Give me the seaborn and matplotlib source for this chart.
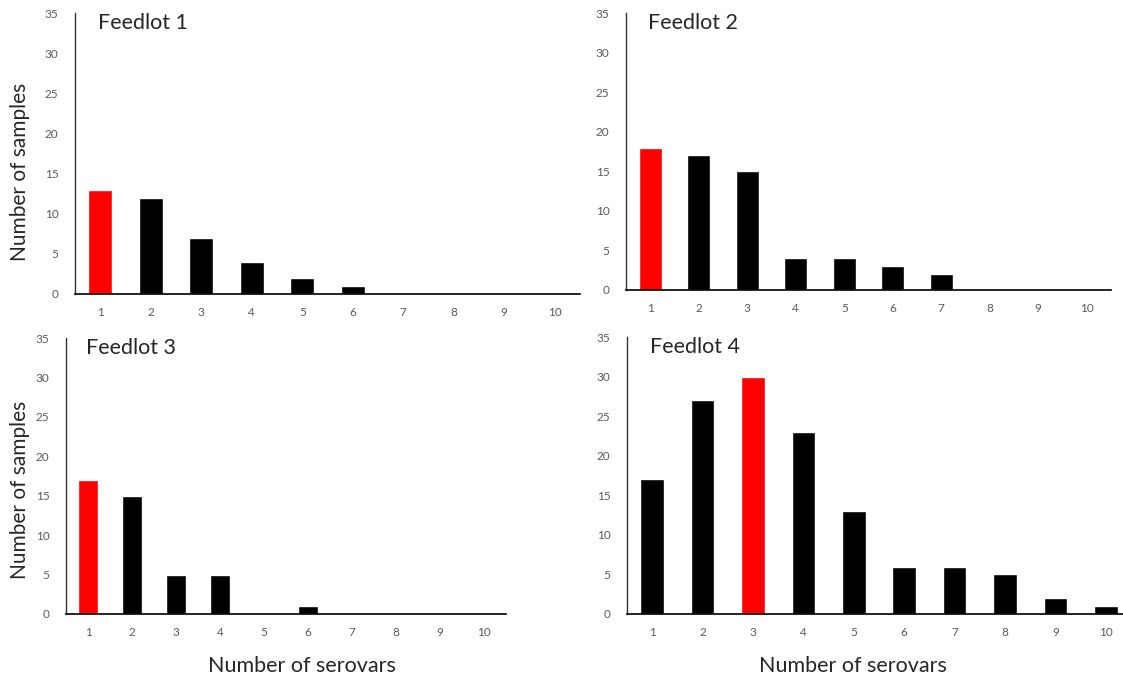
import numpy as np
import pandas as pd
import seaborn as sns
import matplotlib
matplotlib.use("Agg")
import matplotlib.pyplot as plt

##----------- Data --------------##
serovars = [1, 2, 3, 4, 5, 6, 7, 8, 9, 10]
feedlot1 = [13, 12, 7, 4, 2, 1, 0, 0, 0, 0]
feedlot2 = [18, 17, 15, 4, 4, 3, 2, 0, 0, 0]
feedlot3 = [17, 15, 5, 5, 0, 1, 0, 0, 0, 0]
feedlot4 = [17, 27, 30, 23, 13, 6, 6, 5, 2, 1]
titles = ["Feedlot 1", "Feedlot 2", "Feedlot 3", "Feedlot 4"]
y_ticks = [0, 5, 10, 15, 20, 25, 30, 35]

##----------- Plot --------------##
sns.set_style("white")
plt.rcParams['font.family'] = ['Lato', 'DejaVu Sans']

W, H = 1123, 681
fig = plt.figure(figsize=(W / 100, H / 100), dpi=100)

# panel boxes in pixels: left, right, top(35), bottom(0)
boxes = [(75, 580, 13, 294), (626, 1111, 13, 290),
         (66, 506, 338, 614), (627, 1131, 337, 614)]
widths = [0.47, 0.48, 0.46, 0.47]

for vals, title, (l, r, t, b), bw in zip([feedlot1, feedlot2, feedlot3, feedlot4], titles, boxes, widths):
    ax = fig.add_axes([l / W, 1 - b / H, (r - l) / W, (b - t) / H])
    df = pd.DataFrame({'serovars': [str(s) for s in serovars], 'samples': vals})
    colors = ['black'] * len(vals)
    colors[int(np.argmax(vals))] = 'red'
    sns.barplot(data=df, x='serovars', y='samples', hue='serovars', palette=colors,
                legend=False, width=bw, saturation=1, ax=ax)
    ax.set_xlim(-0.5, len(vals) - 0.5)
    ax.set_ylim(0, 35)
    ax.set_yticks(y_ticks)
    ax.set_xlabel('')
    ax.set_ylabel('')
    ax.tick_params(axis='both', length=0, labelsize=8.5, labelcolor='#595959')
    ax.tick_params(axis='x', pad=9)
    ax.tick_params(axis='y', pad=12)
    for s in ['top', 'right']:
        ax.spines[s].set_visible(False)
    ax.spines['left'].set_color('#333333')
    ax.spines['bottom'].set_color('black')
    ax.spines['left'].set_linewidth(1.0)
    ax.spines['bottom'].set_linewidth(1.2)
    ax.text(0.045, 1.0, title, transform=ax.transAxes, fontsize=15.5, va='top', ha='left')

# shared labels
fig.text(20 / W, 1 - 172 / H, 'Number of samples', rotation=90, fontsize=15, ha='center', va='center')
fig.text(20 / W, 1 - 490 / H, 'Number of samples', rotation=90, fontsize=15, ha='center', va='center')
fig.text(302 / W, 1 - 666 / H, 'Number of serovars', fontsize=15.5, ha='center', va='center')
fig.text(853 / W, 1 - 666 / H, 'Number of serovars', fontsize=15.5, ha='center', va='center')

plt.savefig('out.png', dpi=100)
plt.close()
